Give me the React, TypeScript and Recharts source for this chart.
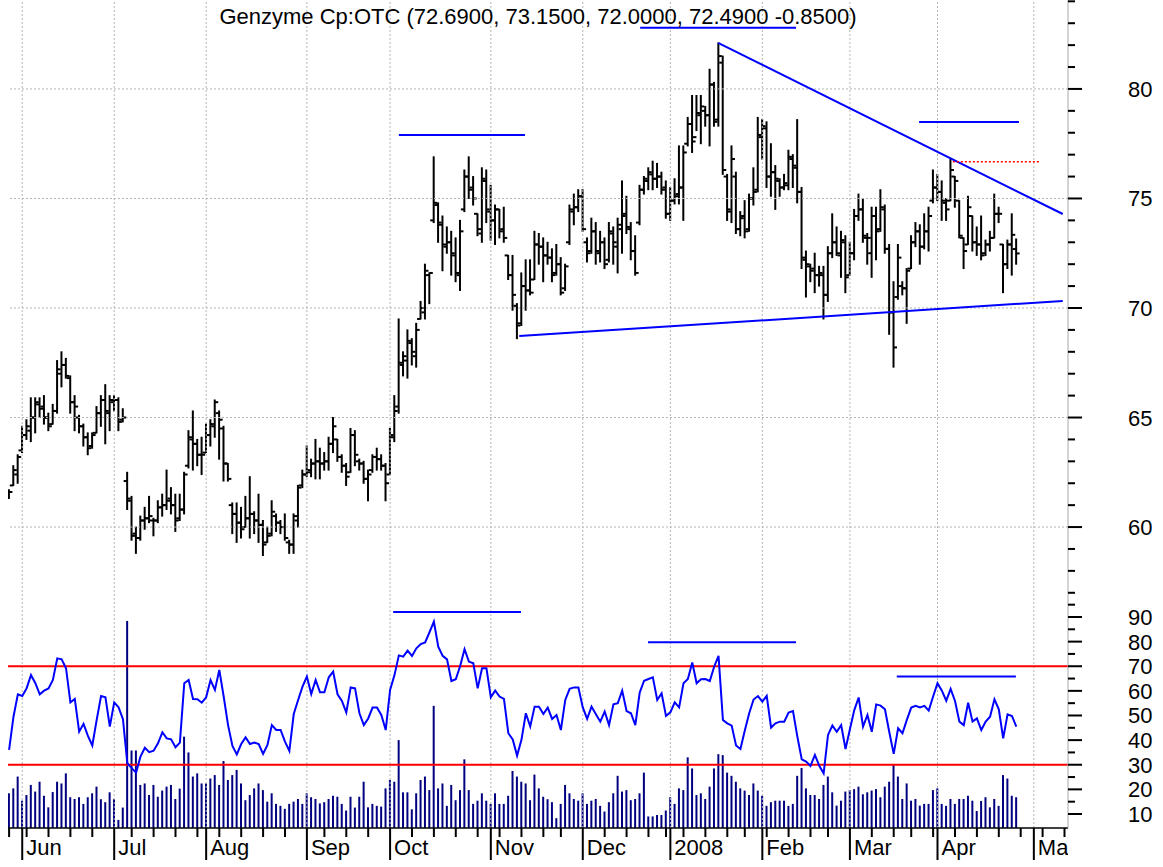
import React from 'react';
import { ComposedChart, Bar, Line, XAxis, YAxis, ReferenceLine } from 'recharts';

// ---------- DATA (trading-day index 0 = 29 May 2007 ... 230 = 25 Apr 2008) ----------
const opens = [
  61.4, 61.9, 62.4, 63.5, 64.2, 64.4, 65.0, 65.6, 65.5, 65.0,
  64.7, 65.3, 67.0, 67.4, 66.8, 65.7, 65.0, 64.6, 64.1, 63.7,
  64.3, 65.2, 65.8, 65.2, 65.7, 65.8, 64.9, 62.1, 61.2, 59.7,
  59.5, 60.3, 60.4, 60.3, 60.3, 60.9, 61.0, 61.3, 61.0, 60.4,
  60.8, 62.8, 64.0, 63.8, 63.3, 63.4, 64.2, 64.6, 65.2, 64.5,
  62.9, 61.0, 60.6, 60.2, 60.0, 60.4, 60.6, 60.3, 60.1, 59.3,
  59.7, 60.5, 60.2, 60.0, 59.3, 59.2, 60.3, 61.9, 62.4, 62.6,
  62.9, 63.0, 62.9, 63.0, 63.8, 64.0, 63.2, 62.8, 62.5, 64.2,
  63.0, 62.9, 62.2, 62.6, 63.2, 63.1, 62.8, 62.4, 64.1, 65.5,
  67.4, 67.6, 68.4, 67.8, 69.5, 69.8, 71.5, 74.0, 74.7, 73.8,
  72.8, 73.0, 72.4, 71.5, 74.5, 76.0, 75.5, 74.3, 73.4, 75.8,
  74.4, 74.0, 74.5, 73.6, 72.4, 71.5, 70.1, 69.3, 71.0, 70.8,
  71.3, 72.9, 72.8, 72.4, 72.3, 71.6, 72.0, 70.9, 73.0, 74.4,
  74.6, 75.1, 73.0, 72.6, 73.5, 72.5, 73.0, 72.2, 73.4, 72.8,
  73.6, 74.3, 73.6, 72.6, 73.9, 75.4, 75.8, 76.1, 75.9, 76.0,
  75.5, 74.3, 74.9, 75.2, 75.5, 77.5, 78.4, 77.8, 78.8, 79.0,
  78.8, 80.2, 78.6, 81.2, 76.0, 74.4, 76.0, 73.6, 74.2, 73.6,
  75.0, 75.4, 77.8, 78.2, 76.0, 76.2, 75.8, 75.5, 75.6, 76.8,
  76.4, 75.3, 72.2, 71.9, 71.8, 71.5, 71.5, 70.6, 72.5, 73.0,
  72.4, 73.0, 71.5, 72.5, 74.2, 74.5, 73.2, 72.5, 74.2, 73.6,
  74.5, 72.7, 69.8, 70.5, 71.0, 70.9, 71.8, 73.0, 73.5, 72.8,
  73.5, 74.9, 75.5, 75.3, 74.8, 74.9, 76.0, 74.9, 73.2, 72.9,
  74.2, 73.0, 72.9, 72.5, 72.9, 73.2, 74.3, 72.9, 72.0, 72.9,
  72.69,
];

const highs = [
  61.7, 62.8, 63.3, 64.6, 64.9, 65.9, 65.9, 65.9, 66.0, 65.2,
  65.6, 67.6, 68.0, 67.7, 66.9, 66.0, 65.1, 64.7, 64.3, 64.3,
  65.5, 66.0, 66.5, 66.0, 66.0, 65.9, 65.4, 62.5, 61.4, 60.0,
  60.5, 60.9, 61.4, 60.4, 61.2, 61.5, 62.6, 61.8, 61.5, 61.5,
  62.5, 64.4, 65.3, 64.0, 64.1, 64.7, 64.9, 65.8, 65.3, 64.6,
  62.9, 61.1, 61.1, 60.9, 61.4, 62.3, 60.7, 61.5, 60.3, 60.0,
  61.2, 60.6, 60.3, 60.6, 59.4, 60.6, 61.9, 62.6, 63.7, 63.1,
  64.0, 63.6, 63.4, 64.1, 65.0, 64.0, 63.3, 62.9, 64.5, 64.4,
  63.1, 63.0, 62.6, 63.3, 63.6, 63.3, 62.9, 64.5, 66.0, 69.5,
  68.0, 69.0, 68.6, 69.3, 70.3, 72.0, 71.6, 76.9, 74.8, 74.2,
  73.7, 73.5, 73.2, 74.0, 76.3, 76.9, 76.0, 74.3, 76.4, 76.3,
  75.6, 74.7, 74.5, 74.6, 72.4, 72.4, 70.2, 71.6, 72.2, 72.2,
  73.5, 73.4, 73.2, 73.0, 72.7, 72.9, 72.3, 72.0, 74.7, 75.2,
  75.4, 75.4, 73.2, 74.1, 73.9, 73.5, 73.2, 73.9, 73.7, 74.1,
  75.8, 75.1, 73.9, 73.3, 75.6, 76.0, 76.4, 76.7, 76.6, 76.2,
  75.8, 75.5, 75.9, 77.4, 77.4, 78.7, 79.7, 79.7, 79.7, 79.2,
  80.9, 80.3, 82.1, 81.5, 76.1, 77.4, 76.2, 74.4, 74.9, 75.2,
  76.4, 78.7, 78.6, 78.5, 77.5, 76.5, 75.9, 76.1, 77.2, 77.0,
  78.6, 75.5, 72.6, 72.0, 72.5, 71.9, 71.9, 72.8, 74.3, 73.7,
  73.5, 73.3, 73.0, 74.5, 75.2, 75.0, 73.4, 74.6, 74.6, 75.4,
  74.7, 72.9, 71.2, 72.9, 71.2, 71.8, 73.3, 73.9, 73.8, 74.3,
  74.6, 76.3, 76.1, 75.8, 75.0, 76.8, 76.0, 74.9, 73.2, 75.1,
  74.2, 73.7, 74.2, 73.1, 73.5, 75.2, 74.6, 72.9, 73.1, 74.3,
  73.15,
];

const lows = [
  61.3, 61.9, 62.0, 63.4, 64.0, 63.9, 64.3, 65.0, 64.7, 64.4,
  64.7, 65.2, 66.4, 66.8, 65.2, 64.4, 64.3, 63.7, 63.3, 63.6,
  64.3, 64.6, 63.8, 64.4, 65.3, 64.4, 64.8, 60.8, 59.4, 58.8,
  59.4, 59.9, 60.2, 59.6, 60.2, 60.5, 60.8, 60.6, 59.8, 60.3,
  60.6, 62.7, 62.6, 62.8, 62.4, 63.4, 63.7, 64.1, 63.1, 62.1,
  62.1, 59.7, 59.3, 59.5, 60.0, 59.5, 59.7, 59.3, 58.7, 59.3,
  59.6, 59.8, 59.7, 59.4, 58.8, 58.8, 60.0, 61.8, 62.3, 62.3,
  62.2, 62.2, 62.6, 62.6, 63.4, 63.0, 62.5, 61.9, 62.5, 62.8,
  62.6, 62.0, 61.2, 62.5, 62.6, 62.6, 61.2, 62.4, 63.9, 65.2,
  66.9, 66.8, 67.4, 67.3, 69.5, 69.5, 70.2, 73.9, 73.0, 71.7,
  72.5, 71.5, 71.2, 70.8, 74.4, 75.0, 74.7, 73.3, 73.0, 73.9,
  73.1, 72.9, 73.2, 73.0, 71.3, 69.9, 68.6, 69.2, 69.9, 70.6,
  71.3, 72.0, 71.2, 72.0, 71.2, 71.5, 70.6, 70.8, 72.9, 73.8,
  74.4, 73.5, 72.1, 72.5, 72.0, 72.1, 71.8, 72.1, 72.0, 71.6,
  72.5, 73.4, 72.2, 71.5, 73.8, 75.2, 75.4, 75.4, 75.5, 75.2,
  74.1, 74.0, 74.75, 74.75, 74.0, 77.4, 77.1, 78.1, 77.5, 78.3,
  77.4, 78.3, 78.3, 76.1, 74.0, 73.9, 73.4, 73.3, 73.2, 73.5,
  74.7, 75.3, 76.8, 75.5, 75.1, 74.5, 75.1, 75.4, 75.4, 75.5,
  74.8, 71.8, 70.5, 71.2, 70.7, 71.0, 69.5, 70.3, 72.3, 72.4,
  71.4, 70.7, 71.5, 72.2, 74.0, 73.0, 72.0, 71.4, 72.2, 73.5,
  72.5, 68.8, 67.3, 70.4, 70.6, 69.3, 71.8, 72.8, 72.0, 72.7,
  72.6, 74.8, 74.9, 74.0, 74.0, 74.9, 74.6, 73.2, 71.8, 72.9,
  72.6, 72.4, 72.2, 72.4, 72.6, 73.2, 73.9, 70.7, 71.8, 71.5,
  72.0,
];

const closes = [
  61.6, 62.6, 63.2, 64.2, 64.6, 65.0, 65.7, 65.4, 65.0, 64.6,
  65.3, 67.2, 67.4, 66.9, 65.7, 65.5, 64.6, 64.1, 63.6, 64.2,
  65.2, 65.8, 65.3, 65.8, 65.8, 64.8, 65.0, 61.3, 59.6, 59.5,
  60.3, 60.4, 60.5, 60.3, 60.9, 61.0, 61.2, 61.0, 60.3, 60.8,
  62.4, 64.1, 63.8, 63.3, 63.3, 64.2, 64.7, 65.7, 64.9, 62.9,
  62.2, 60.6, 60.2, 59.9, 60.4, 60.6, 60.3, 60.1, 59.2, 59.6,
  60.7, 60.2, 60.0, 59.5, 59.2, 60.5, 61.8, 62.4, 62.5, 62.9,
  63.0, 62.9, 63.0, 63.8, 64.6, 63.2, 62.8, 62.3, 64.2, 63.3,
  62.9, 62.2, 62.4, 63.2, 63.1, 62.8, 62.0, 64.2, 65.3, 67.5,
  67.8, 68.5, 68.0, 69.0, 70.0, 71.7, 71.6, 74.8, 73.9, 72.9,
  73.0, 72.5, 71.6, 73.5, 76.0, 75.4, 75.0, 73.6, 75.9, 74.5,
  74.0, 74.5, 73.5, 73.2, 71.5, 70.6, 69.2, 71.0, 70.8, 70.7,
  72.9, 72.8, 72.4, 72.3, 71.5, 72.0, 70.7, 71.9, 74.5, 74.6,
  75.1, 73.6, 72.5, 73.5, 72.6, 73.0, 72.0, 73.5, 73.0, 73.8,
  74.2, 73.7, 72.6, 71.6, 75.4, 75.9, 76.2, 75.9, 76.0, 75.4,
  74.3, 74.9, 75.1, 75.5, 77.1, 78.4, 77.6, 78.9, 79.2, 78.8,
  80.2, 78.5, 81.5, 76.3, 74.5, 76.8, 73.6, 74.1, 73.5, 75.0,
  75.3, 77.9, 78.3, 76.0, 76.2, 75.9, 75.5, 75.7, 76.9, 76.5,
  75.3, 72.3, 72.0, 71.7, 71.5, 71.6, 70.6, 72.5, 73.0, 72.5,
  73.1, 71.4, 72.5, 74.2, 74.5, 73.3, 73.2, 74.2, 73.5, 74.6,
  72.7, 69.8, 68.2, 72.3, 70.9, 71.7, 73.0, 73.5, 72.8, 73.5,
  74.2, 75.5, 75.3, 74.9, 74.5, 76.3, 75.8, 73.3, 72.6, 74.6,
  73.0, 72.9, 72.4, 72.9, 73.2, 74.3, 74.3, 72.0, 72.9, 73.34,
  72.49,
];

const rsi = [
  36, 49.5, 58.6, 57.9, 61, 66.4, 63.1, 58.6, 60.1, 61,
  64.4, 73.2, 72.8, 69.2, 55.3, 56.7, 43.4, 46.6, 41.7, 37.8,
  48.2, 57.9, 57.4, 45.5, 55.3, 53.3, 48.5, 30.6, 28.6, 26.8,
  33.3, 36.9, 35.1, 35.7, 38.7, 43.2, 40.7, 40.3, 37.1, 39,
  63.1, 64.4, 56.7, 56.6, 55.2, 57.4, 64.4, 60.4, 68.5, 57.7,
  46.1, 37.6, 34.2, 38.4, 41.1, 38.4, 39, 38.4, 34.4, 38,
  46.1, 44.1, 44.1, 39.4, 35.6, 50.6, 56.3, 61.7, 65.8, 58.7,
  64.4, 59.4, 59.4, 65.5, 67.8, 58.6, 55.9, 51.2, 61.4, 61,
  50.9, 46.1, 48.8, 53.2, 53.2, 50.2, 44.1, 60.4, 66.4, 74.4,
  73.9, 76.3, 74.2, 77.3, 79, 79.7, 83.8, 88.1, 77.9, 74.2,
  72.8, 64, 64.7, 70.1, 76.9, 71.9, 71.2, 61, 69.2, 69.2,
  57.4, 60.1, 57.7, 56.7, 42.8, 40.3, 33.7, 40.1, 50.9, 45.5,
  53.6, 53.6, 50.6, 53.2, 48.6, 50.2, 44.1, 56.3, 60.8, 61.4,
  61.4, 53.3, 48.6, 53.6, 50.5, 47.5, 51.6, 46.1, 54.5, 55,
  60.1, 51.8, 50.9, 46.1, 59.3, 64.1, 64.8, 65.5, 56.3, 59,
  49.8, 51.3, 55.3, 53.3, 63.1, 64.8, 71.5, 63.1, 64.7, 64.8,
  64, 69.8, 74.2, 48.2, 46.8, 45.9, 37.8, 36.4, 43.9, 50.9,
  56.5, 57.9, 55.6, 58, 45.1, 46.8, 47.5, 47.5, 51.2, 51.8,
  41.4, 32.2, 31.3, 29.5, 34, 29.6, 26.5, 42.1, 45.9, 43.4,
  46.1, 36.4, 44.4, 52.2, 57.3, 45.5, 50.2, 43.4, 54.5, 54,
  52.5, 43.2, 34.4, 44.8, 42.8, 48.2, 53.2, 53.9, 53.3, 53.9,
  52, 57.7, 63.1, 60.1, 56, 60.8, 55.9, 47.5, 46.1, 55.2,
  47.5, 48.8, 44.1, 47.5, 49.5, 56.6, 52.5, 40.7, 50.5, 49.8,
  45.5,
];

// volume, expressed in units of the lower panel scale
const volume = [
  18.4, 20.4, 25.2, 15.4, 17.7, 21.8, 19.1, 23.1, 17.4, 12.7,
  18.9, 23.1, 22.4, 26.5, 16.8, 16.1, 16.8, 14.1, 16.8, 18.4,
  21.1, 16, 14.8, 18.8, 16.1, 7.6, 12.6, 88.4, 35.8, 35.8,
  21.8, 22.4, 17.7, 21.8, 17, 19.5, 21.1, 21.8, 16.1, 20.3,
  41.4, 35, 25.2, 26.5, 22.4, 22.4, 24.4, 25.8, 21.8, 31.5,
  23.8, 25.8, 27.9, 22.4, 15.6, 17.7, 20.4, 22.4, 19.7, 15,
  18.4, 14.1, 13.3, 12.1, 14.1, 15, 16.1, 14.1, 18.4, 16.8,
  16.1, 14.3, 14.8, 16.1, 17.4, 17, 14.1, 11.4, 17, 12.6,
  17, 23.1, 12.7, 14.1, 13.3, 13, 20.4, 23.8, 23.1, 40,
  18.8, 18.8, 11.9, 18.4, 23.8, 25.2, 19.7, 53.9, 20.4, 22.4,
  13.3, 21.8, 15.6, 19.7, 32.2, 19.7, 14.1, 15.4, 18.4, 15.4,
  14.1, 18.4, 14.1, 14.1, 17.4, 27.5, 25.2, 23.1, 22.4, 15.6,
  26, 20.4, 17, 16, 14.8, 8.3, 14.1, 21.8, 18.4, 16.1,
  15.4, 18.4, 14.1, 15.4, 16.1, 13.3, 11, 14.8, 18.4, 25.5,
  19.1, 19.7, 15.6, 16.1, 18.4, 26.8, 9, 9, 9.6, 9.6,
  11.4, 16.8, 14.1, 20.4, 19.7, 33, 28.5, 17.7, 18.4, 16.1,
  21.1, 28.5, 34.3, 33.9, 26.8, 25.5, 23.1, 20.4, 19.5, 17.7,
  22.4, 19.5, 17.4, 13.3, 14.8, 15.4, 15.4, 15.4, 13.3, 14.1,
  25.5, 28.7, 20.4, 17.7, 17.7, 16.1, 21.8, 25.2, 18.8, 13.4,
  15.4, 19.1, 19.7, 20.1, 21.1, 18, 18.8, 19.5, 20.1, 16.8,
  21.1, 23.1, 30.1, 25.2, 16.1, 22.4, 15.4, 16.1, 13.4, 14.1,
  14.1, 19.7, 20.4, 14.1, 13.3, 16.1, 14.1, 16.1, 16.1, 17.4,
  15.4, 11.2, 15.3, 16.8, 12.7, 16.1, 13.3, 25.8, 24.4, 17.4,
  16.8,
];

const monthStarts = [3, 24, 45, 68, 87, 110, 131, 151, 172, 192, 212, 234];
const monthLabels = ['Jun', 'Jul', 'Aug', 'Sep', 'Oct', 'Nov', 'Dec', '2008', 'Feb', 'Mar', 'Apr', 'May'];
const weekStarts = [
  0, 4, 9, 14, 19, 24, 28, 33, 38, 43, 48, 53, 58, 63, 68, 72, 77, 82, 87, 92,
  97, 102, 107, 112, 117, 122, 126, 131, 136, 141, 146, 150, 154, 159, 164, 168,
  173, 178, 183, 187, 192, 197, 202, 206, 211, 216, 221, 226, 231, 236, 241,
];

const priceTicks = [57, 58, 59, 60, 61, 62, 63, 64, 65, 66, 67, 68, 69, 70, 71, 72, 73, 74, 75, 76, 77, 78, 79, 80, 81, 82, 83, 84];
const priceGridValues = [60, 65, 70, 75, 80];
const oscTicks = [10, 15, 20, 25, 30, 35, 40, 45, 50, 55, 60, 65, 70, 75, 80, 85, 90, 95];
const oscBands = [70, 30];

// trend-line endpoints [index, value]
const priceTrendLines = [
  [[161.9, 82.1], [240.6, 74.29]],
  [[116.5, 68.72], [240.6, 70.32]],
  [[89.0, 77.9], [117.8, 77.9]],
  [[144.1, 82.79], [179.7, 82.79]],
  [[207.8, 78.49], [230.6, 78.49]],
];
const priceDottedLine = [[215.5, 76.68], [235.2, 76.68]];
const oscTrendLines = [
  [[87.7, 92.0], [116.9, 92.0]],
  [[145.9, 79.7], [179.7, 79.7]],
  [[202.7, 65.8], [229.9, 65.8]],
];

const titleText = 'Genzyme Cp:OTC (72.6900, 73.1500, 72.0000, 72.4900 -0.8500)';

// ---------- derived tables ----------
const priceData = opens.map((o, i) => ({
  i,
  open: o,
  high: highs[i],
  low: lows[i],
  close: closes[i],
  range: [lows[i], highs[i]],
}));
const lowerData = rsi.map((r, i) => ({ i, rsi: r, vol: volume[i] }));
const xTicks = Array.from(new Set([...weekStarts, ...monthStarts])).sort((a, b) => a - b);

const X_DOMAIN: [number, number] = [-0.25, 241.8];
const PRICE_DOMAIN: [number, number] = [56.67, 84.06];
const OSC_DOMAIN: [number, number] = [4.31, 96.9];
const FONT = "'Liberation Sans', Arial, Helvetica, sans-serif";
const PLOT_RIGHT = 1068;
const GRID = '#b4b4b4';

const OhlcShape = (props: any) => {
  const { x, y, width, height, payload } = props;
  if (x == null || y == null || !payload) return null;
  const cx = x + width / 2;
  const top = Math.min(y, y + height);
  const h = Math.abs(height);
  const span = payload.high - payload.low || 1;
  const yOpen = top + ((payload.high - payload.open) / span) * h;
  const yClose = top + ((payload.high - payload.close) / span) * h;
  return (
    <g stroke="#000" strokeWidth={2}>
      <line x1={cx} x2={cx} y1={top - 0.5} y2={top + h + 0.5} />
      <line x1={cx - 3.5} x2={cx} y1={yOpen} y2={yOpen} />
      <line x1={cx} x2={cx + 3.5} y1={yClose} y2={yClose} />
    </g>
  );
};

const PriceTick = (props: any) => {
  const { x, y, payload } = props;
  const v = payload.value;
  const major = v % 5 === 0;
  return (
    <g>
      <line x1={x} x2={x + (major ? 14 : 7)} y1={y} y2={y} stroke="#000" strokeWidth={2} />
      {major && (
        <text x={x + 60} y={y} dy={8} fontSize={22} fill="#000" fontFamily={FONT}>
          {v}
        </text>
      )}
    </g>
  );
};

const OscTick = (props: any) => {
  const { x, y, payload } = props;
  const v = payload.value;
  const major = v % 10 === 0;
  return (
    <g>
      <line x1={x} x2={x + (major ? 14 : 7)} y1={y} y2={y} stroke="#000" strokeWidth={2} />
      {major && v <= 90 && (
        <text x={x + 60} y={y} dy={8} fontSize={22} fill="#000" fontFamily={FONT}>
          {v}
        </text>
      )}
    </g>
  );
};

const TimeTick = (props: any) => {
  const { x, y, payload } = props;
  const v = payload.value;
  const mi = monthStarts.indexOf(v);
  if (mi >= 0) {
    return (
      <g>
        <line x1={x} x2={x} y1={y} y2={y + 32} stroke="#000" strokeWidth={2} />
        <svg x={0} y={y} width={PLOT_RIGHT} height={38} overflow="hidden">
          <text x={x + 4} y={27} fontSize={22} fill="#000" fontFamily={FONT}>
            {monthLabels[mi]}
          </text>
        </svg>
      </g>
    );
  }
  return <line x1={x} x2={x} y1={y} y2={y + 9} stroke="#000" strokeWidth={2} />;
};

export default function App() {
  return (
    <div
      style={{
        position: 'absolute',
        left: 0,
        top: 0,
        width: 1163,
        height: 867,
        background: '#fff',
        fontFamily: FONT,
        overflow: 'hidden',
      }}
    >
      <div style={{ position: 'absolute', left: 0, top: 0 }}>
        <ComposedChart width={1163} height={600} data={priceData} margin={{ top: 0, right: 0, bottom: 0, left: 8 }}>
          <XAxis type="number" dataKey="i" domain={X_DOMAIN} allowDataOverflow hide />
          <YAxis
            orientation="right"
            type="number"
            domain={PRICE_DOMAIN}
            allowDataOverflow
            ticks={priceTicks}
            interval={0}
            width={95}
            tickSize={0}
            tickMargin={0}
            tickLine={false}
            axisLine={{ stroke: '#a8a8a8', strokeWidth: 1 }}
            tick={<PriceTick />}
          />
          {priceGridValues.map((v) => (
            <ReferenceLine key={'pg' + v} y={v} stroke={GRID} strokeDasharray="2 2" strokeWidth={1} />
          ))}
          {monthStarts.map((m) => (
            <ReferenceLine key={'pv' + m} x={m} stroke={GRID} strokeDasharray="2 2" strokeWidth={1} />
          ))}
          <Bar dataKey="range" barSize={4} shape={<OhlcShape />} isAnimationActive={false} />
          {priceTrendLines.map((seg, k) => (
            <ReferenceLine
              key={'pt' + k}
              segment={[
                { x: seg[0][0], y: seg[0][1] },
                { x: seg[1][0], y: seg[1][1] },
              ]}
              stroke="#0000ff"
              strokeWidth={2}
            />
          ))}
          <ReferenceLine
            segment={[
              { x: priceDottedLine[0][0], y: priceDottedLine[0][1] },
              { x: priceDottedLine[1][0], y: priceDottedLine[1][1] },
            ]}
            stroke="#ff0000"
            strokeWidth={1.5}
            strokeDasharray="2 2"
          />
        </ComposedChart>
      </div>

      <div style={{ position: 'absolute', left: 0, top: 600 }}>
        <ComposedChart width={1163} height={267} data={lowerData} margin={{ top: 0, right: 0, bottom: 0, left: 8 }}>
          <XAxis
            type="number"
            dataKey="i"
            domain={X_DOMAIN}
            allowDataOverflow
            ticks={xTicks}
            interval={0}
            height={39}
            tickSize={0}
            tickMargin={0}
            tickLine={false}
            axisLine={{ stroke: '#000', strokeWidth: 1.5 }}
            tick={<TimeTick />}
          />
          <YAxis
            orientation="right"
            type="number"
            domain={OSC_DOMAIN}
            allowDataOverflow
            ticks={oscTicks}
            interval={0}
            width={95}
            tickSize={0}
            tickMargin={0}
            tickLine={false}
            axisLine={{ stroke: '#a8a8a8', strokeWidth: 1 }}
            tick={<OscTick />}
          />
          {monthStarts.map((m) => (
            <ReferenceLine key={'lv' + m} x={m} stroke={GRID} strokeDasharray="2 2" strokeWidth={1} />
          ))}
          <Bar dataKey="vol" barSize={2} fill="#000080" isAnimationActive={false} />
          {oscBands.map((v) => (
            <ReferenceLine key={'ob' + v} y={v} stroke="#ff0000" strokeWidth={2} />
          ))}
          <Line
            type="linear"
            dataKey="rsi"
            stroke="#0000ff"
            strokeWidth={2}
            dot={false}
            isAnimationActive={false}
          />
          {oscTrendLines.map((seg, k) => (
            <ReferenceLine
              key={'ot' + k}
              segment={[
                { x: seg[0][0], y: seg[0][1] },
                { x: seg[1][0], y: seg[1][1] },
              ]}
              stroke="#0000ff"
              strokeWidth={2}
            />
          ))}
        </ComposedChart>
      </div>

      <svg
        width={1163}
        height={40}
        style={{ position: 'absolute', left: 0, top: 0, pointerEvents: 'none' }}
      >
        <text x={538} y={24} textAnchor="middle" fontSize={22} fill="#000" fontFamily={FONT}>
          {titleText}
        </text>
      </svg>
    </div>
  );
}
